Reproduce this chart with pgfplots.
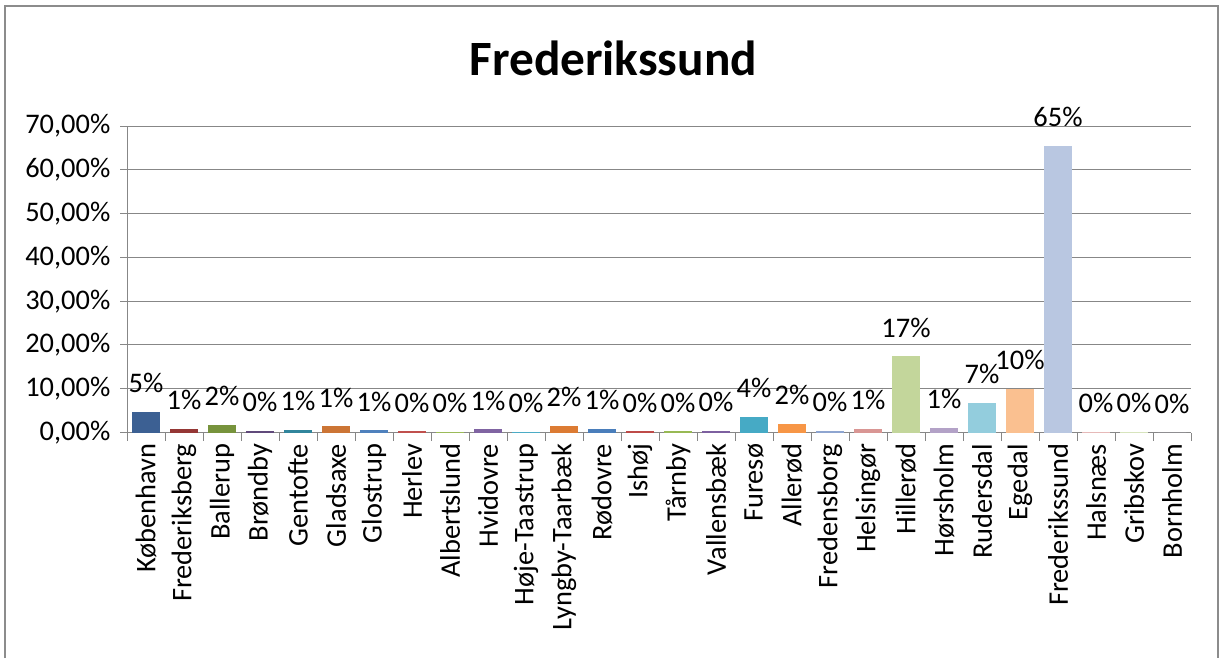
\documentclass[border=0pt]{standalone}
\usepackage{pgfplots}
\pgfplotsset{compat=1.18}
\usepackage{fontspec}
\setmainfont{Carlito}
\definecolor{axisgray}{HTML}{878787}
\definecolor{framegray}{HTML}{8C8C8C}
\definecolor{c1}{HTML}{3C6093}
\definecolor{c2}{HTML}{953735}
\definecolor{c3}{HTML}{77933C}
\definecolor{c4}{HTML}{604A7B}
\definecolor{c5}{HTML}{31859C}
\definecolor{c6}{HTML}{CC7535}
\definecolor{c7}{HTML}{4F81BD}
\definecolor{c8}{HTML}{C0504D}
\definecolor{c9}{HTML}{9BBB59}
\definecolor{c10}{HTML}{8064A2}
\definecolor{c11}{HTML}{4BACC6}
\definecolor{c12}{HTML}{DC7B33}
\definecolor{c13}{HTML}{4A7EBB}
\definecolor{c14}{HTML}{BE4B48}
\definecolor{c15}{HTML}{98B954}
\definecolor{c16}{HTML}{7D60A0}
\definecolor{c17}{HTML}{46AAC5}
\definecolor{c18}{HTML}{F79646}
\definecolor{c19}{HTML}{8EA5D0}
\definecolor{c20}{HTML}{D99694}
\definecolor{c21}{HTML}{C3D69B}
\definecolor{c22}{HTML}{B3A2C7}
\definecolor{c23}{HTML}{93CDDD}
\definecolor{c24}{HTML}{FAC090}
\definecolor{c25}{HTML}{B9C7E1}
\definecolor{c26}{HTML}{E6B9B8}
\definecolor{c27}{HTML}{D7E4BD}
\definecolor{c28}{HTML}{CCC1DA}
\pgfplotsset{onebar/.style={fill=#1, draw=none, bar shift=0pt}}
\begin{document}
\begin{tikzpicture}
\useasboundingbox (0,0) rectangle (917.25pt,493.5pt);
\draw[line width=1.5pt, color=framegray] (3.5pt,0pt) -- (3.5pt,489pt) -- (913.5pt,489pt) -- (913.5pt,0pt);
\node[anchor=base, font=\fontsize{37}{41}\selectfont\bfseries, inner sep=0pt] at (460pt,436.5pt) {Frederikssund};
\begin{axis}[
  at={(95.25pt,169.1pt)}, anchor=south west,
  scale only axis, width=798pt, height=229.9pt,
  xmin=-0.5, xmax=27.5, ymin=0, ymax=70,
  axis lines*=left, axis line style={-, draw=axisgray, line width=0.75pt},
  ybar, bar width=21.4pt,
  ytick={0,10,...,70},
  ymajorgrids, grid style={draw=axisgray, line width=0.75pt},
  /pgf/number format/assume math mode=true,
  yticklabel={\pgfmathprintnumber[fixed,fixed zerofill,precision=2,use comma]{\tick}\%},
  tick label style={font=\fontsize{21.3}{25}\selectfont},
  y tick label style={xshift=-4pt},
  tick align=outside,
  major tick length=5pt,
  y tick style={draw=axisgray, line width=0.75pt},
  x tick style={draw=none},
  xtick={0,...,27},
  xticklabels={København,Frederiksberg,Ballerup,Brøndby,Gentofte,Gladsaxe,Glostrup,Herlev,Albertslund,Hvidovre,Høje-Taastrup,Lyngby-Taarbæk,Rødovre,Ishøj,Tårnby,Vallensbæk,Furesø,Allerød,Fredensborg,Helsingør,Hillerød,Hørsholm,Rudersdal,Egedal,Frederikssund,Halsnæs,Gribskov,Bornholm},
  x tick label style={rotate=90, anchor=east},
  extra x ticks={-0.5,0.5,...,27.5},
  extra x tick labels={},
  extra x tick style={grid=none, major tick length=6pt, x tick style={draw=axisgray, line width=0.75pt}},
  point meta=explicit symbolic,
  nodes near coords,
  every node near coord/.append style={font=\fontsize{21.3}{25}\selectfont, anchor=base, yshift=14.5pt, inner sep=0pt},
]
\addplot[onebar=c1] coordinates {(0,4.7) [5\%]};
\addplot[onebar=c2] coordinates {(1,0.85) [1\%]};
\addplot[onebar=c3] coordinates {(2,1.8) [2\%]};
\addplot[onebar=c4] coordinates {(3,0.4) [0\%]};
\addplot[onebar=c5] coordinates {(4,0.55) [1\%]};
\addplot[onebar=c6] coordinates {(5,1.4) [1\%]};
\addplot[onebar=c7] coordinates {(6,0.5) [1\%]};
\addplot[onebar=c8] coordinates {(7,0.25) [0\%]};
\addplot[onebar=c9] coordinates {(8,0.2) [0\%]};
\addplot[onebar=c10] coordinates {(9,0.7) [1\%]};
\addplot[onebar=c11] coordinates {(10,0.2) [0\%]};
\addplot[onebar=c12] coordinates {(11,1.5) [2\%]};
\addplot[onebar=c13] coordinates {(12,0.75) [1\%]};
\addplot[onebar=c14] coordinates {(13,0.25) [0\%]};
\addplot[onebar=c15] coordinates {(14,0.25) [0\%]};
\addplot[onebar=c16] coordinates {(15,0.3) [0\%]};
\addplot[onebar=c17] coordinates {(16,3.5) [4\%]};
\addplot[onebar=c18] coordinates {(17,2.0) [2\%]};
\addplot[onebar=c19] coordinates {(18,0.3) [0\%]};
\addplot[onebar=c20] coordinates {(19,0.75) [1\%]};
\addplot[onebar=c21] coordinates {(20,17.4) [17\%]};
\addplot[onebar=c22] coordinates {(21,1.1) [1\%]};
\addplot[onebar=c23] coordinates {(22,6.8) [7\%]};
\addplot[onebar=c24] coordinates {(23,9.9) [10\%]};
\addplot[onebar=c25] coordinates {(24,65.5) [65\%]};
\addplot[onebar=c26] coordinates {(25,0.15) [0\%]};
\addplot[onebar=c27] coordinates {(26,0.1) [0\%]};
\addplot[onebar=c28] coordinates {(27,0) [0\%]};
\end{axis}
\end{tikzpicture}
\end{document}
